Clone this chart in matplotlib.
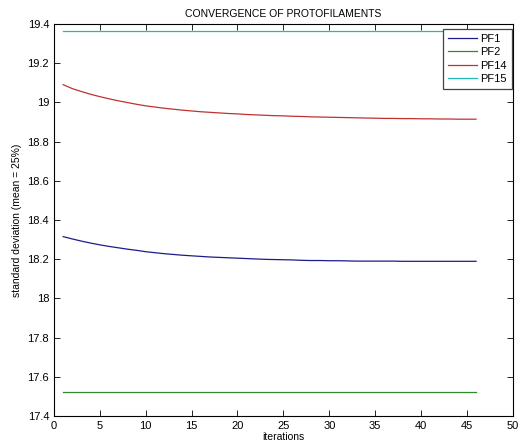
import matplotlib
matplotlib.use("Agg")
from matplotlib import pyplot as plt

plt.rcParams["font.family"] = ["Liberation Sans", "DejaVu Sans"]

iterations = list(range(1, 47))

pf1 = [18.315, 18.303, 18.292, 18.282, 18.273, 18.265, 18.258, 18.251, 18.245, 18.238,
       18.233, 18.228, 18.224, 18.220, 18.217, 18.214, 18.211, 18.209, 18.207, 18.205,
       18.203, 18.201, 18.199, 18.198, 18.197, 18.196, 18.194, 18.193, 18.193, 18.192,
       18.192, 18.191, 18.190, 18.190, 18.190, 18.190, 18.190, 18.189, 18.189, 18.189,
       18.189, 18.189, 18.189, 18.189, 18.189, 18.189]
pf2 = [17.52] * 46
pf14 = [19.090, 19.070, 19.055, 19.041, 19.029, 19.018, 19.008, 18.999, 18.990, 18.982,
        18.976, 18.970, 18.965, 18.960, 18.956, 18.952, 18.949, 18.946, 18.943, 18.941,
        18.938, 18.936, 18.934, 18.932, 18.931, 18.929, 18.928, 18.926, 18.925, 18.924,
        18.923, 18.922, 18.921, 18.920, 18.919, 18.918, 18.918, 18.917, 18.917, 18.916,
        18.916, 18.915, 18.915, 18.914, 18.914, 18.914]
pf15 = [19.363] * 46

series = [("PF1", pf1, "#1c1c8a"),
          ("PF2", pf2, "#2f8a2f"),
          ("PF14", pf14, "#c03232"),
          ("PF15", pf15, "#22b8b8")]

fig = plt.figure(figsize=(5.19, 4.43), dpi=100, facecolor="white")
ax = fig.add_axes([0.104, 0.061, 0.884, 0.885])

for name, vals, col in series:
    ax.plot(iterations, vals, color=col, linewidth=0.9, label=name)

ax.set_xlim(0, 50)
ax.set_ylim(17.4, 19.4)
ax.set_xticks(range(0, 51, 5))
yt = [17.4, 17.6, 17.8, 18.0, 18.2, 18.4, 18.6, 18.8, 19.0, 19.2, 19.4]
ax.set_yticks(yt)
ax.set_yticklabels(["%g" % v for v in yt])
ax.tick_params(direction="in", top=True, right=True, labelsize=8, length=4, width=0.6)
for s in ax.spines.values():
    s.set_linewidth(0.8)

ax.set_title("CONVERGENCE OF PROTOFILAMENTS", fontsize=7.5, pad=5)
ax.set_xlabel("iterations", fontsize=7.5, labelpad=1)
ax.set_ylabel("standard deviation (mean = 25%)", fontsize=7.5, labelpad=4)

# legend box sits just inside the top-right corner, as in the MATLAB figure
leg = ax.legend(loc="upper right", bbox_to_anchor=(0.998, 0.987), fontsize=8,
                fancybox=False, framealpha=1, edgecolor="#444444", borderaxespad=0,
                handlelength=2.6, handletextpad=0.3, labelspacing=0.3, borderpad=0.45)
leg.get_frame().set_linewidth(0.9)

fig.savefig("out.png", dpi=100)
